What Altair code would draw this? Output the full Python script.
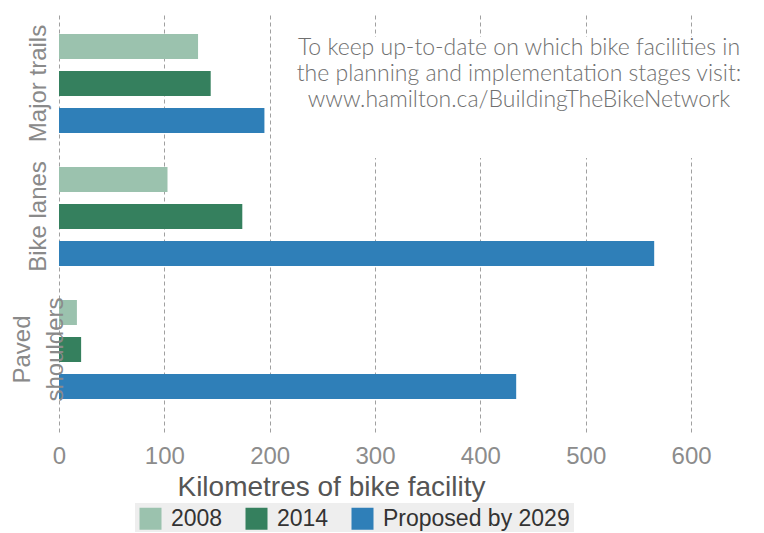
import altair as alt
import pandas as pd

# ---- data ----
categories = ["Major trails", "Bike lanes", "Paved shoulders"]
category_labels = ["Major trails", "Bike lanes", "Paved\nshoulders"]
series = ["2008", "2014", "Proposed by 2029"]
values_2008 = [132, 103, 17]
values_2014 = [144, 174, 21]
values_2029 = [195, 565, 434]
colors = ["#9bc2ae", "#35805e", "#2f7fb8"]
tick_values = [0, 100, 200, 300, 400, 500, 600]
annotation_lines = [
    "To keep up-to-date on which bike facilities in",
    "the planning and implementation stages visit:",
    "www.hamilton.ca/BuildingTheBikeNetwork",
]

rows = []
for s, vals in zip(series, [values_2008, values_2014, values_2029]):
    for c, v in zip(categories, vals):
        rows.append({"category": c, "series": s, "km": v})
df = pd.DataFrame(rows)
labels_df = pd.DataFrame({"category": categories, "label": category_labels})
note_df = pd.DataFrame({"note": ["\n".join(annotation_lines)]})

W, H = 690, 420

y_scale = alt.Scale(domain=categories, paddingInner=0.2556, paddingOuter=0.2068, align=0.4)

bars = alt.Chart(df).mark_bar().encode(
    x=alt.X(
        "km:Q",
        scale=alt.Scale(domain=[0, 655], nice=False, zero=True),
        axis=alt.Axis(
            values=tick_values,
            grid=True,
            gridDash=[4, 3],
            gridColor="#a0a0a0",
            gridWidth=1,
            domain=False,
            ticks=False,
            labelFlush=False,
            labelFont="Liberation Sans",
            labelFontSize=24,
            labelColor="#8c8c8c",
            labelPadding=12,
            title="Kilometres of bike facility",
            titleFont="Liberation Sans",
            titleFontSize=28,
            titleFontWeight="normal",
            titleColor="#555555",
            titleX=272,
            titleY=55,
            titleAlign="center",
            titleBaseline="middle",
        ),
    ),
    y=alt.Y("category:N", sort=categories, scale=y_scale, axis=None),
    yOffset=alt.YOffset(
        "series:N", sort=series, scale=alt.Scale(domain=series, paddingInner=0.324, paddingOuter=0)
    ),
    color=alt.Color(
        "series:N",
        sort=series,
        scale=alt.Scale(domain=series, range=colors),
        legend=alt.Legend(
            title=None,
            orient="none",
            legendX=76,
            legendY=491,
            direction="horizontal",
            fillColor="#eeeeee",
            padding=4,
            symbolType="square",
            symbolSize=484,
            symbolStrokeWidth=0,
            labelFont="Liberation Sans",
            labelFontSize=23,
            labelColor="#333333",
            labelOffset=9,
            labelLimit=400,
            columnPadding=22,
        ),
    ),
)

white_box = alt.Chart(note_df).mark_rect(color="white").encode(
    x=alt.value(221), x2=alt.value(W), y=alt.value(25), y2=alt.value(146)
)

note = alt.Chart(note_df).mark_text(
    font="Lato Light, Lato",
    fontWeight=300,
    fontSize=23,
    color="#707070",
    align="center",
    baseline="middle",
    lineBreak="\n",
    lineHeight=26,
).encode(x=alt.value(460), y=alt.value(36), text="note:N")

ylabels = (
    alt.Chart(labels_df)
    .transform_calculate(
        xpos="-20 - 16.5 * (length(split(datum.label, '\\n')) - 1)"
    )
    .mark_text(
        font="Liberation Sans",
        fontSize=24,
        color="#8a8a8a",
        angle=270,
        align="center",
        baseline="middle",
        lineBreak="\n",
        lineHeight=33,
    )
    .encode(
        x=alt.X("xpos:Q", scale=None),
        y=alt.Y("category:N", sort=categories, scale=y_scale, axis=None),
        text="label:N",
    )
)

chart = (
    alt.layer(white_box, bars, note, ylabels)
    .properties(
        width=W,
        height=H,
        autosize=alt.AutoSizeParams(type="none"),
        padding={"left": 51, "top": 4, "right": 5, "bottom": 100},
    )
    .configure_view(stroke=None)
)

chart.save("out.html", embed_options={"renderer": "svg", "actions": False})
